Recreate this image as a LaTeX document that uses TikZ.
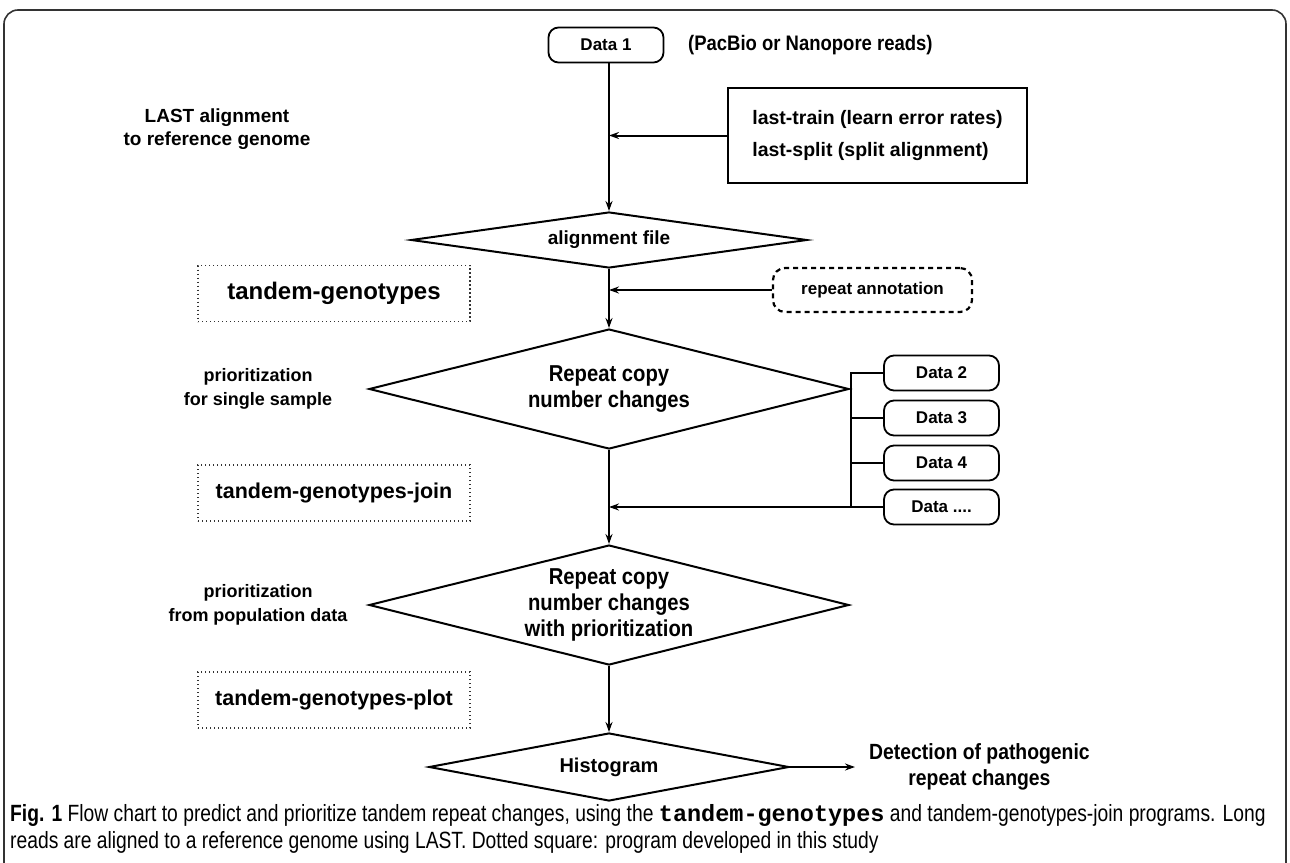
\documentclass[tikz,border=0pt]{standalone}
\usepackage{fontspec}
\setmainfont{Liberation Sans}
\setmonofont{Liberation Mono}
\newfontfamily\capfont[FakeStretch=0.82]{Liberation Sans}
\newfontfamily\narrowfont[FakeStretch=0.88]{Liberation Sans}
\usetikzlibrary{positioning,shapes.geometric,arrows.meta}

\begin{document}
\begin{tikzpicture}[
    % GLOBAL CFG
    x=1pt, y=-1pt,
    font=\bfseries,
    >={Stealth[length=10pt,width=7pt]},
    % Styles
    datanode/.style={% For the rounded data inputs
        rectangle,
        rounded corners=10pt,
        draw,
        line width=1.8pt,
        minimum width=115pt,
        minimum height=35pt,
        inner sep=0pt,
        font=\fontsize{17}{20}\selectfont\bfseries,
        },
    tool/.style={% For the LAST tools
        rectangle,
        draw,
        line width=2pt,
        align=left,
        minimum width=299pt,
        minimum height=95pt,
        inner sep=0pt,
        font=\fontsize{19.5}{32}\selectfont\bfseries,
        },
    decision/.style={% For the diamonds, text goes in a center label
        diamond,
        draw,
        line width=2pt,
        inner sep=0pt,
        },
    dtext/.style={% text inside the diamonds
        align=center,
        inner sep=0pt,
        font=\narrowfont\fontsize{23}{26}\selectfont\bfseries,
        },
    program/.style={% For the programs of this study
        rectangle,
        draw=black!80,
        line width=1.4pt,
        dash pattern=on 1.4pt off 2.6pt,
        minimum width=272pt,
        minimum height=56pt,
        inner sep=0pt,
        },
    annot/.style={% For the annotation input
        rectangle,
        rounded corners=12pt,
        draw,
        line width=2.2pt,
        dash pattern=on 5pt off 4pt,
        minimum width=199pt,
        minimum height=44pt,
        inner sep=0pt,
        font=\fontsize{17}{20}\selectfont\bfseries,
        },
    mylabel/.style={% side texts
        align=center,
        inner sep=0pt,
        font=\fontsize{18}{24}\selectfont\bfseries,
        },
    ArrowC1/.style={% connectors
        line width=2pt,
        },
    ]

\useasboundingbox (0,0) rectangle (1290,862);
\clip (0,0) rectangle (1290,862);

% Frame
\draw [line width=1.6pt, black!80, rounded corners=14pt] (4,900) -- (4,10) -- (1286,10) -- (1286,900);

% Inputs
\node [datanode] (data1) at (606,45) {Data 1};
\node [mylabel, anchor=west, font=\narrowfont\fontsize{21}{24}\selectfont\bfseries] (reads) at (688,45) {(PacBio or Nanopore reads)};
\node [mylabel, font=\fontsize{19}{23}\selectfont\bfseries] (lastlbl) at (217,129) {LAST alignment\\to reference genome};
\node [tool] (last) at (877.5,135.5) {last-train (learn error rates)\\last-split (split alignment)};

% Alignment
\node [decision, minimum width=396pt, minimum height=56pt, shape aspect=7,
       label={[dtext, font=\fontsize{19}{22}\selectfont\bfseries]center:alignment file}] (align) at (609,240) {};
\node [program, font=\fontsize{24}{28}\selectfont\bfseries] (tg) at (334,293.5) {tandem-genotypes};
\node [annot] (annot) at (872.5,290) {repeat annotation};

% Single sample
\node [decision, minimum width=480pt, minimum height=120pt,
       label={[dtext]center:Repeat copy\\number changes}] (rcn) at (609,389) {};
\node [mylabel] (single) at (258,389) {prioritization\\for single sample};

% Other data
\node [datanode] (data2) at (941.5,373) {Data 2};
\node [datanode] (data3) at (941.5,418) {Data 3};
\node [datanode] (data4) at (941.5,463) {Data 4};
\node [datanode] (datan) at (941.5,507) {Data ....};

% Population
\node [program, font=\fontsize{21.5}{25}\selectfont\bfseries] (tgjoin) at (334,493) {tandem-genotypes-join};
\node [decision, minimum width=480pt, minimum height=120pt,
       label={[dtext]center:Repeat copy\\number changes\\with prioritization}] (rcnp) at (609,605) {};
\node [mylabel] (population) at (258,605) {prioritization\\from population data};

% Plot
\node [program, font=\fontsize{21.5}{25}\selectfont\bfseries] (tgplot) at (334,700) {tandem-genotypes-plot};
\node [decision, minimum width=360pt, minimum height=68pt,
       label={[dtext, font=\fontsize{20}{24}\selectfont\bfseries]center:Histogram}] (hist) at (609,767) {};
\node [mylabel, anchor=west, inner xsep=14pt, font=\narrowfont\fontsize{22}{26}\selectfont\bfseries] (detect) at (855,767) {Detection of pathogenic\\repeat changes};

% Connectors
\draw [->, ArrowC1] (data1.south -| align.north) -- (align.north);
\draw [->, ArrowC1] (last.west) -- (last.west -| align.north);
\draw [->, ArrowC1] (align.south) -- (rcn.north);
\draw [->, ArrowC1] (annot.west) -- (annot.west -| align.south);
\draw [->, ArrowC1] (rcn.south) -- (rcnp.north);
\draw [ArrowC1] (data2.west) -- ++(-32,0) |- (datan.west);
\draw [ArrowC1] (data3.west) -- ++(-32,0);
\draw [ArrowC1] (data4.west) -- ++(-32,0);
\draw [->, ArrowC1] (datan.west) -- (datan.west -| rcn.south);
\draw [->, ArrowC1] (rcnp.south) -- (hist.north);
\draw [->, ArrowC1] (hist.east) -- (detect.west);

% Caption
\node [anchor=north west, align=left, inner sep=0pt, font=\capfont\fontsize{23.5}{27}\selectfont] (caption) at (10,804) {\textbf{Fig. 1} Flow chart to predict and prioritize tandem repeat changes, using the {\ttfamily\bfseries tandem-genotypes} and tandem-genotypes-join programs. Long\\reads are aligned to a reference genome using LAST. Dotted square: program developed in this study};

\end{tikzpicture}
\end{document}
